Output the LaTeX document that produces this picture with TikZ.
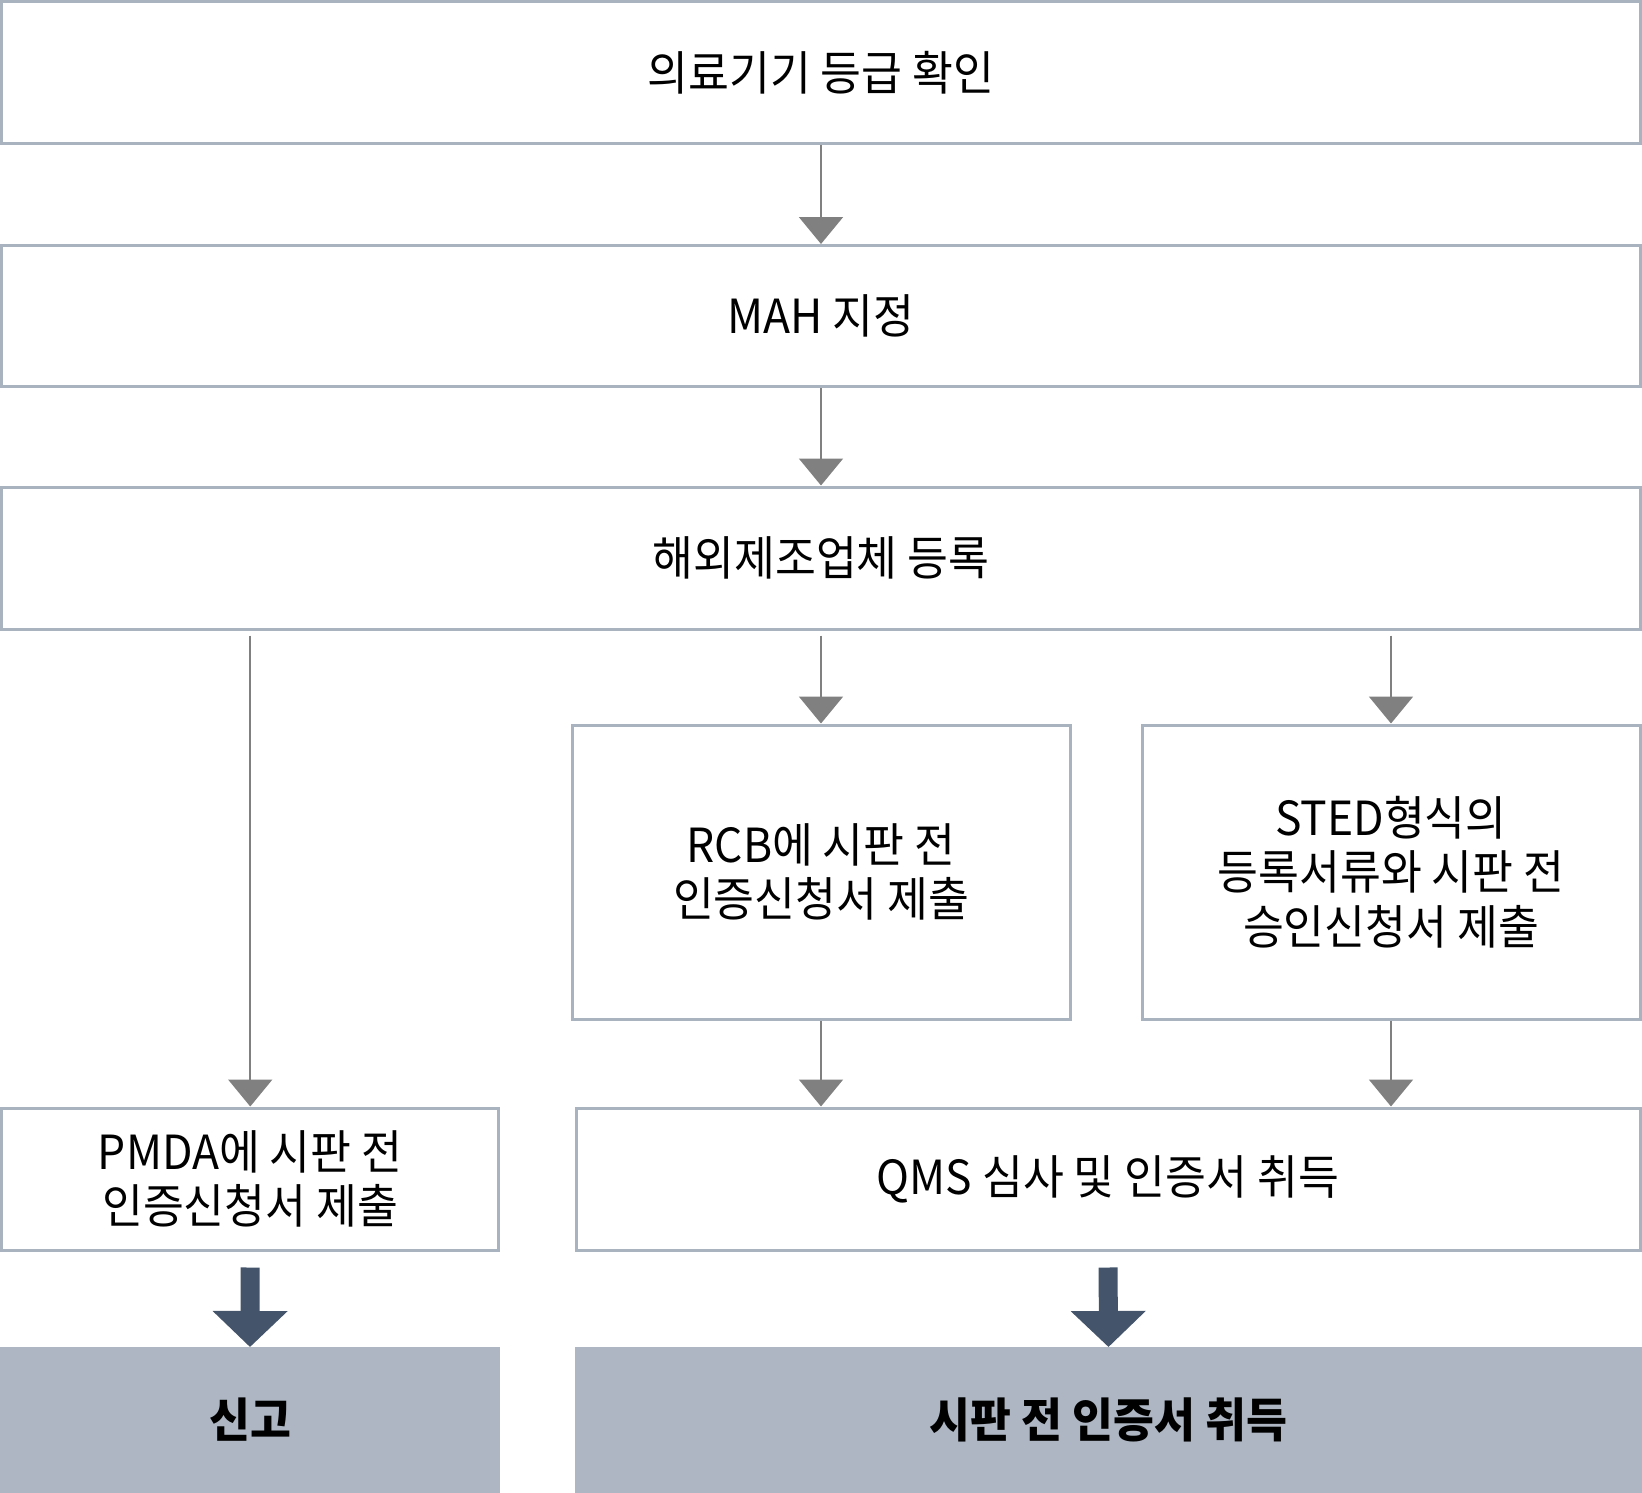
\documentclass[tikz,border=0pt]{standalone}
\usepackage{fontspec}
\setmainfont{Noto Sans CJK KR}[FakeStretch=0.945]
\usetikzlibrary{arrows.meta}
\definecolor{bordc}{HTML}{A9B3BF}
\definecolor{grayfill}{HTML}{ADB6C2}
\definecolor{arrc}{HTML}{808080}
\definecolor{darkc}{HTML}{44546A}
\begin{document}
\begin{tikzpicture}[x=1pt,y=-1pt,
  box/.style={draw=bordc, line width=3pt, fill=white, inner sep=0pt, align=center, font=\fontsize{47}{54.5}\selectfont},
  gbox/.style={fill=grayfill, inner sep=0pt, outer sep=0pt, align=center, font=\fontsize{47}{54.5}\selectfont\bfseries},
  arr/.style={draw=arrc, line width=2pt, -{Triangle[width=44pt,length=27pt]}},
  bigarr/.style={draw=darkc, line width=19pt, -{Triangle[width=73pt,length=36pt]}}]
\useasboundingbox (0,0) rectangle (1642,1493);
\node[box, minimum width=1639pt, minimum height=142pt] (b1) at (821,72.5) {의료기기 등급 확인};
\node[box, minimum width=1639pt, minimum height=141pt] (b2) at (821,316) {MAH 지정};
\node[box, minimum width=1639pt, minimum height=142pt] (b3) at (821,558) {해외제조업체 등록};
\node[box, minimum width=498pt, minimum height=294pt] (rcb) at (821,872) {RCB에 시판 전\\인증신청서 제출};
\node[box, minimum width=498pt, minimum height=294pt] (sted) at (1391,872) {STED형식의\\등록서류와 시판 전\\승인신청서 제출};
\node[box, minimum width=497pt, minimum height=142pt] (pmda) at (250.25,1179) {PMDA에 시판 전\\인증신청서 제출};
\node[box, minimum width=1064pt, minimum height=142pt] (qms) at (1108,1179) {QMS 심사 및 인증서 취득};
\node[gbox, minimum width=500pt, minimum height=146pt] (g1) at (250,1420) {신고};
\node[gbox, minimum width=1067pt, minimum height=146pt] (g2) at (1108.5,1420) {시판 전 인증서 취득};
\draw[arr] (b1.south) -- (b2.north);
\draw[arr] (b2.south) -- (b3.north);
\draw[arr, shorten <=5pt] (b3.south -| pmda.north) -- (pmda.north);
\draw[arr, shorten <=5pt] (b3.south -| rcb.north) -- (rcb.north);
\draw[arr, shorten <=5pt] (b3.south -| sted.north) -- (sted.north);
\draw[arr] (rcb.south) -- (rcb.south |- qms.north);
\draw[arr] (sted.south) -- (sted.south |- qms.north);
\draw[bigarr, shorten <=16pt] (pmda.south) -- (g1.north);
\draw[bigarr, shorten <=16pt] (qms.south) -- (g2.north);
\end{tikzpicture}
\end{document}
